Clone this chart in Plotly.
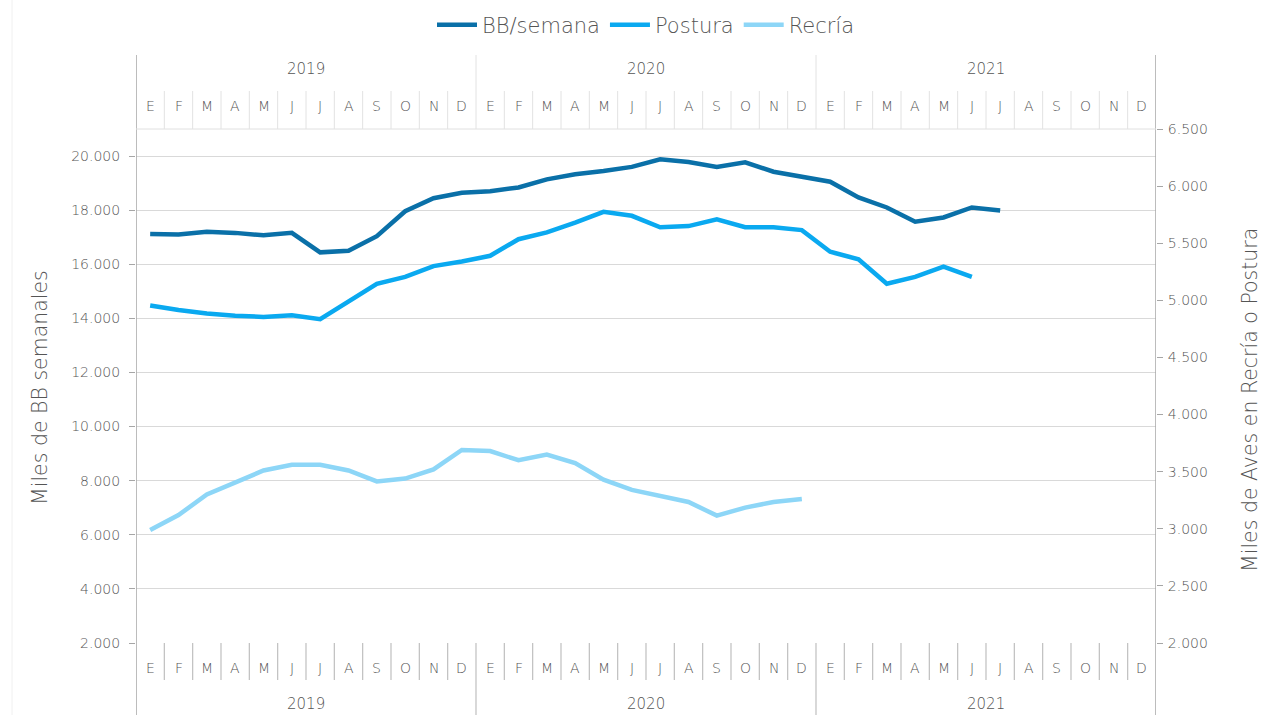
import plotly.graph_objects as go

# ---- data ----
month_letters = ["E", "F", "M", "A", "M", "J", "J", "A", "S", "O", "N", "D"]
years = ["2019", "2020", "2021"]

bb_semana = [17120, 17100, 17200, 17160, 17070, 17160, 16440, 16500, 17040, 17960,
             18440, 18640, 18700, 18840, 19140, 19330, 19450, 19600, 19880, 19780,
             19600, 19770, 19420, 19230, 19050, 18470, 18100, 17570, 17730, 18100,
             17990]
postura = [4955, 4915, 4885, 4865, 4855, 4870, 4835, 4990, 5145, 5205,
           5300, 5340, 5390, 5535, 5595, 5680, 5775, 5740, 5640, 5650,
           5710, 5640, 5640, 5615, 5425, 5360, 5145, 5205, 5295, 5205]
recria = [2990, 3120, 3300, 3400, 3510, 3560, 3560, 3510, 3415, 3440,
          3520, 3690, 3680, 3600, 3650, 3575, 3430, 3340, 3285, 3235,
          3115, 3185, 3235, 3260]

# ---- styling ----
FONT = "DejaVu Sans"
WEIGHT = 200
TXT = "#555555"
C_BB = "#0a70a8"
C_PO = "#0aa9f0"
C_RE = "#8dd6f7"
W, H = 1261, 715
ML, MR, MT, MB = 136, 105, 129, 72
PH = H - MT - MB
PW = W - ML - MR

def py(pix):  # pixel y -> paper y
    return (H - MB - pix) / PH

def px(pix):  # pixel x -> paper x
    return (pix - ML) / PW

def fnt(size):
    return dict(family=FONT, size=size, color=TXT, weight=WEIGHT)

n_months = len(month_letters) * len(years)
xs = list(range(n_months))

fig = go.Figure()
fig.add_trace(go.Scatter(x=xs[:len(bb_semana)], y=bb_semana, name="BB/semana",
                         mode="lines", line=dict(color=C_BB, width=4.5), yaxis="y"))
fig.add_trace(go.Scatter(x=xs[:len(postura)], y=postura, name="Postura",
                         mode="lines", line=dict(color=C_PO, width=4.5), yaxis="y2"))
fig.add_trace(go.Scatter(x=xs[:len(recria)], y=recria, name="Recría",
                         mode="lines", line=dict(color=C_RE, width=4.5), yaxis="y2"))

shapes = []
annotations = []
axis_col = "#a6a6a6"
top_sep = "#e2e2e2"
bot_sep = "#bfbfbf"

# outer vertical lines (axes extended through label bands)
for xb in (-0.5, n_months - 0.5):
    shapes.append(dict(type="line", xref="x", yref="paper", x0=xb, x1=xb,
                       y0=py(715), y1=py(55), line=dict(color=axis_col, width=1.5)))
# top border of plot
shapes.append(dict(type="line", xref="paper", yref="paper", x0=0, x1=1, y0=1, y1=1,
                   line=dict(color="#e0e0e0", width=1)))

for i in range(1, n_months):
    xb = i - 0.5
    if i % 12 == 0:
        shapes.append(dict(type="line", xref="x", yref="paper", x0=xb, x1=xb,
                           y0=1, y1=py(55), line=dict(color=top_sep, width=1)))
        shapes.append(dict(type="line", xref="x", yref="paper", x0=xb, x1=xb,
                           y0=py(715), y1=0, line=dict(color=bot_sep, width=1.2)))
    else:
        shapes.append(dict(type="line", xref="x", yref="paper", x0=xb, x1=xb,
                           y0=1, y1=py(91), line=dict(color=top_sep, width=1)))
        shapes.append(dict(type="line", xref="x", yref="paper", x0=xb, x1=xb,
                           y0=py(680), y1=0, line=dict(color=bot_sep, width=1.2)))

for i in range(n_months):
    lab = month_letters[i % 12]
    for ypix in (106, 668):
        annotations.append(dict(x=i, y=py(ypix), xref="x", yref="paper", text=lab,
                                showarrow=False, xanchor="center", yanchor="middle",
                                font=fnt(14)))
for k, yr in enumerate(years):
    xc = k * 12 + 5.5
    for ypix in (69, 704):
        annotations.append(dict(x=xc, y=py(ypix), xref="x", yref="paper", text=yr,
                                showarrow=False, xanchor="center", yanchor="middle",
                                font=fnt(15)))

# axis titles
annotations.append(dict(x=px(40), y=py(388), xref="paper", yref="paper",
                        text="Miles de BB semanales", textangle=-90, showarrow=False,
                        xanchor="center", yanchor="middle", font=fnt(20.5)))
annotations.append(dict(x=px(1250), y=py(400), xref="paper", yref="paper",
                        text="Miles de Aves en Recría o Postura", textangle=-90, showarrow=False,
                        xanchor="center", yanchor="middle", font=fnt(20.5)))

# faint chart border on the left
shapes.append(dict(type="line", xref="paper", yref="paper", x0=px(12), x1=px(12),
                   y0=py(715), y1=py(0), line=dict(color="#f0f0f0", width=1)))

fig.update_layout(
    width=W, height=H,
    margin=dict(l=ML, r=MR, t=MT, b=MB, pad=0, autoexpand=False),
    paper_bgcolor="white", plot_bgcolor="white",
    separators=",.",
    font=fnt(14),
    showlegend=True,
    legend=dict(orientation="h", x=0.5, xanchor="center", y=py(25), yanchor="middle",
                font=fnt(21), itemwidth=40,
                tracegroupgap=0, bgcolor="rgba(0,0,0,0)"),
    xaxis=dict(range=[-0.5, n_months - 0.5], showticklabels=False, showgrid=False,
               zeroline=False, showline=False, ticks=""),
    yaxis=dict(range=[2000, 21000], tickvals=list(range(2000, 20001, 2000)),
               tickformat=",d", showgrid=True, gridcolor="#d9d9d9", gridwidth=1.2,
               zeroline=False, showline=False, ticks="outside", ticklen=6,
               tickcolor=axis_col, tickfont=fnt(14), ticklabelstandoff=6),
    yaxis2=dict(range=[2000, 6500], dtick=500, tick0=2000, tickformat=",d",
                overlaying="y", side="right", showgrid=False, zeroline=False,
                showline=False, ticks="outside", ticklen=6, tickcolor=axis_col,
                tickfont=fnt(14), ticklabelstandoff=2),
    shapes=shapes, annotations=annotations,
)

fig.write_html("out.html", include_plotlyjs=True, config={"displayModeBar": False},
               post_script="document.body.style.margin='0';document.body.style.overflow='hidden';")
